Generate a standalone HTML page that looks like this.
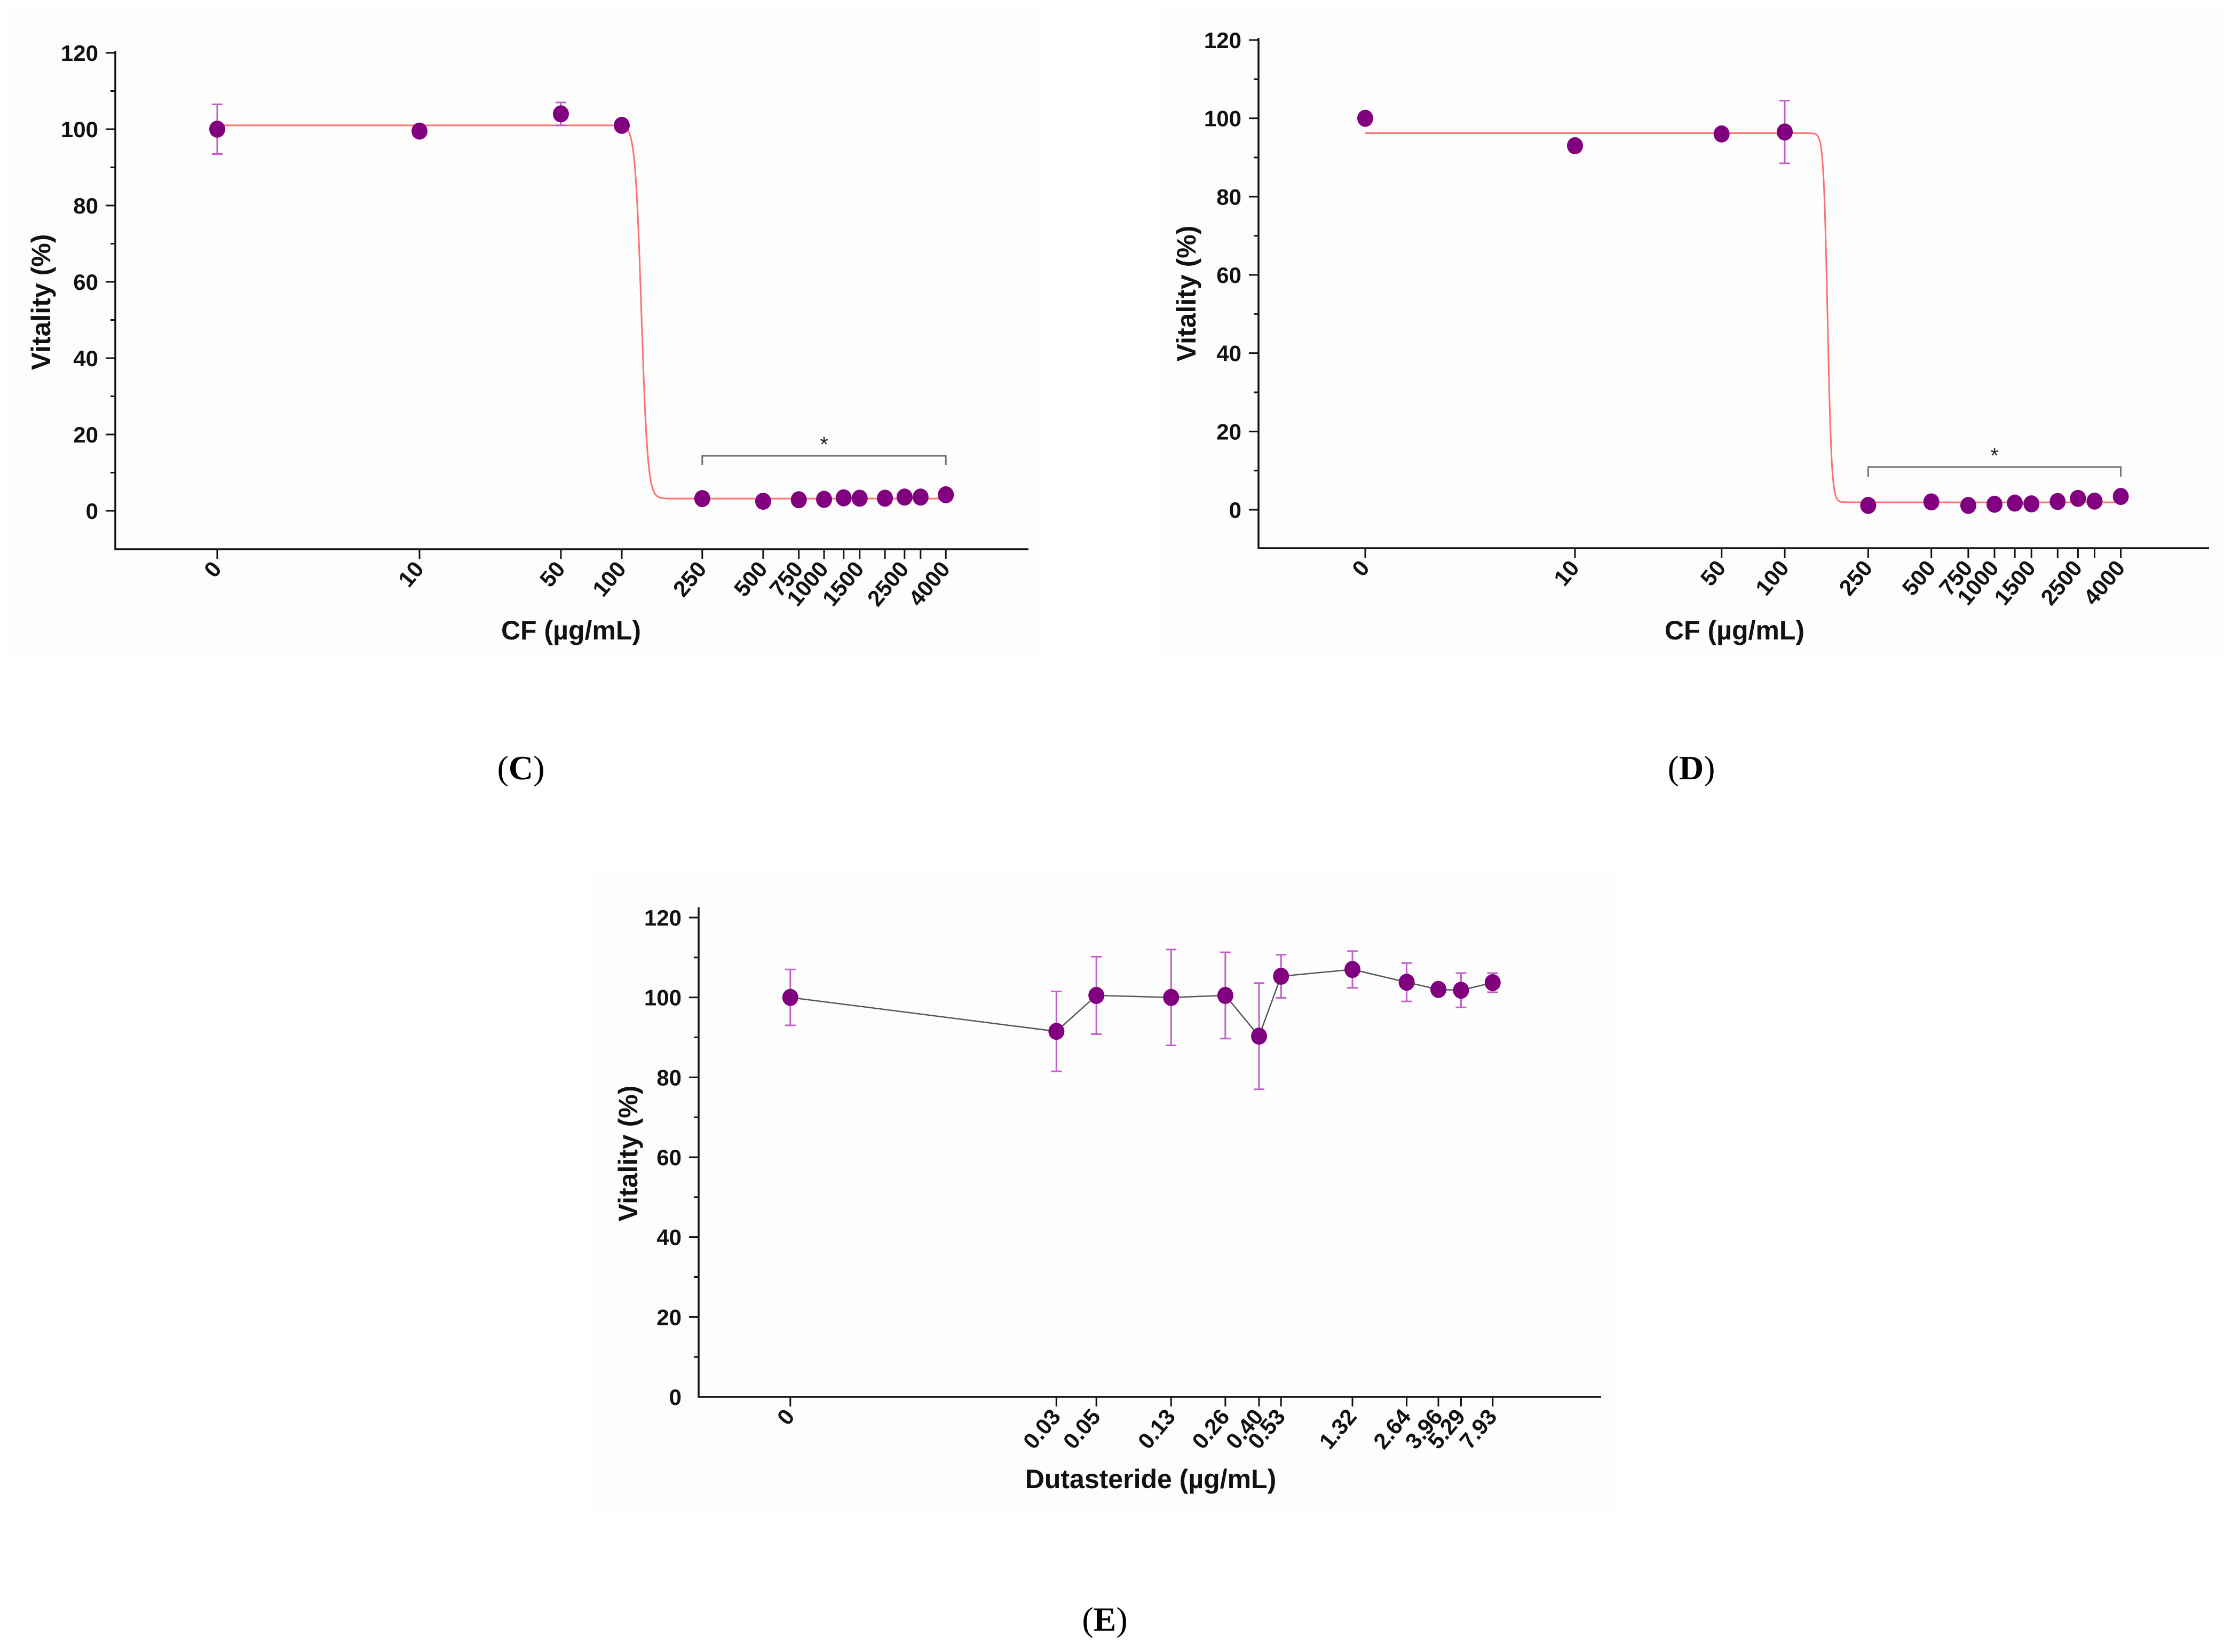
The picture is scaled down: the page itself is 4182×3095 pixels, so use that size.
<!DOCTYPE html>
<html><head><meta charset="utf-8"><style>
html,body{margin:0;padding:0;background:#fff}
svg{display:block}
text{font-family:"Liberation Sans",sans-serif}
</style></head><body>
<svg id="fig" width="4182" height="3095" viewBox="0 0 4182 3095" xmlns="http://www.w3.org/2000/svg">
<rect x="0" y="0" width="4182" height="3095" fill="#ffffff"/>
<rect x="15" y="10" width="1930" height="1215" fill="#fdfdfd"/>
<rect x="2172" y="10" width="1990" height="1215" fill="#fdfdfd"/>
<rect x="1110" y="1640" width="1915" height="1190" fill="#fdfdfd"/>
<text x="976" y="1460" font-size="64" text-anchor="middle" style="font-family:'Liberation Serif',serif">(<tspan font-weight="bold">C</tspan>)</text>
<text x="3169" y="1460" font-size="64" text-anchor="middle" style="font-family:'Liberation Serif',serif">(<tspan font-weight="bold">D</tspan>)</text>
<text x="2070" y="3055" font-size="64" text-anchor="middle" style="font-family:'Liberation Serif',serif">(<tspan font-weight="bold">E</tspan>)</text>
</svg>
<script>
// ---- Panel C data ----
const cfTickLabels = ["0","10","50","100","250","500","750","1000","1500","2500","4000"];
const cfDoses = [0,10,50,100,250,500,750,1000,1250,1500,2000,2500,3000,4000];
const cVitality = [100,99.5,104,101,3.2,2.5,2.9,3.0,3.4,3.3,3.3,3.6,3.6,4.2];
const cError = [6.5,0,3,0,0,0,0,0,0,0,0,0,0,0];
const cFitTop = 101, cFitBottom = 3.2, cFitEC50 = 125, cFitHill = 28;
// ---- Panel D data ----
const dVitality = [100,93,96,96.5,1.1,2.0,1.1,1.4,1.7,1.5,2.1,2.9,2.2,3.4];
const dError = [0,0,0,8,0,0,0,0,0,0,0,0,0,0];
const dFitTop = 96.2, dFitBottom = 1.9, dFitEC50 = 160, dFitHill = 45;
// ---- Panel E data ----
const dutDoses = [0,0.03,0.05,0.13,0.26,0.40,0.53,1.32,2.64,3.96,5.29,7.93];
const dutTickLabels = ["0","0.03","0.05","0.13","0.26","0.40","0.53","1.32","2.64","3.96","5.29","7.93"];
const eVitality = [100,91.5,100.5,100,100.5,90.3,105.3,107,103.8,102,101.8,103.7];
const eError = [7,10,9.7,12,10.8,13.3,5.4,4.6,4.8,0,4.3,2.4];
const yTicks = [0,20,40,60,80,100,120];

const NS="http://www.w3.org/2000/svg";
const svg=document.getElementById('fig');
function mk(tag,attrs,parent){const e=document.createElementNS(NS,tag);for(const k in attrs)e.setAttribute(k,attrs[k]);(parent||svg).appendChild(e);return e;}

function drawPanel(p){
  const g=mk('g',{});
  
  
  const y=v=>p.y0+(v-0)*(p.y120-p.y0)/120;
  const x=p.x;
  const ya=mk('line',{x1:p.ax,y1:p.axTop,x2:p.ax,y2:p.axBottom+1.5,stroke:'#111','stroke-width':3.5},g);
  
  
  const xa=mk('line',{x1:p.ax-1.5,y1:p.axBottom,x2:p.axRight,y2:p.axBottom,stroke:'#111','stroke-width':3.5},g);
  
  
  for(let v=p.yMin+10; v<=120; v+=10){
    const major = v%20===0;
    mk('line',{x1:p.ax-(major?18:9),y1:y(v),x2:p.ax,y2:y(v),stroke:'#111','stroke-width':3},g);
  }
  yTicks.forEach(v=>{
    const t=mk('text',{x:p.ax-32,y:y(v)+15,'font-size':42,'font-weight':'bold','text-anchor':'end',fill:'#111'},g);
    
    
    t.textContent=String(v);
  });
  p.doses.forEach(d=>{
    mk('line',{x1:x(d),y1:p.axBottom,x2:x(d),y2:p.axBottom+18,stroke:'#111','stroke-width':3},g);
  });
  p.tickLabels.forEach(s=>{
    const d=parseFloat(s), tx=x(d)+10, ty=p.axBottom+38;
    const t=mk('text',{x:tx,y:ty,'font-size':42,'font-weight':'bold','text-anchor':'end',fill:'#111',transform:`rotate(-50 ${tx} ${ty})`},g);
    
    
    t.textContent=s;
  });
  const yt=mk('text',{x:p.yTitleX,y:p.yTitleY,'font-size':50,'font-weight':'bold','text-anchor':'middle',fill:'#111',transform:`rotate(-90 ${p.yTitleX} ${p.yTitleY})`},g);
  
  
  yt.textContent='Vitality (%)';
  const xt=mk('text',{x:p.xTitleX,y:p.xTitleY,'font-size':50,'font-weight':'bold','text-anchor':'middle',fill:'#111'},g);
  
  
  xt.textContent=p.xTitle;
  if(p.fit){
    const f=p.fit; let dstr='';
    const lo=Math.log10(1), hi=Math.log10(p.doses[p.doses.length-1]);
    for(let i=0;i<=1200;i++){
      const lx=lo+(hi-lo)*i/1200, v=f.bottom+(f.top-f.bottom)/(1+Math.pow(10,(lx-Math.log10(f.ec50))*f.hill));
      dstr+=(i?'L':'M')+x(Math.pow(10,lx)).toFixed(1)+' '+y(v).toFixed(1);
    }
    const c=mk('path',{d:dstr,fill:'none',stroke:'#ff7070','stroke-width':3},g);
    
    
  } else {
    const pts=p.doses.map((d,i)=>x(d).toFixed(1)+','+y(p.vals[i]).toFixed(1)).join(' ');
    const l=mk('polyline',{points:pts,fill:'none',stroke:'#555','stroke-width':2.5},g);
    
    
  }
  p.doses.forEach((d,i)=>{
    const e=p.err[i];
    if(e>0){
      const eg=mk('g',{stroke:'#c060c8','stroke-width':3},g);
      
      
      mk('line',{x1:x(d),y1:y(p.vals[i]+e),x2:x(d),y2:y(p.vals[i]-e)},eg);
      mk('line',{x1:x(d)-10,y1:y(p.vals[i]+e),x2:x(d)+10,y2:y(p.vals[i]+e)},eg);
      mk('line',{x1:x(d)-10,y1:y(p.vals[i]-e),x2:x(d)+10,y2:y(p.vals[i]-e)},eg);
    }
  });
  p.doses.forEach((d,i)=>{
    const c=mk('ellipse',{cx:x(d),cy:y(p.vals[i]),rx:15,ry:16,fill:'#800080'},g);
    
    
  });
  if(p.bracket){
    const b=p.bracket, x1=x(b.from), x2=x(b.to);
    const br=mk('path',{d:`M${x1} ${b.yEnd}L${x1} ${b.y}L${x2} ${b.y}L${x2} ${b.yEnd}`,fill:'none',stroke:'#707070','stroke-width':3},g);
    
    
    const s=mk('text',{x:(x1+x2)/2,y:b.y-8,'font-size':40,'text-anchor':'middle',fill:'#222'},g);
    
    
    s.textContent='*';
  }
}

drawPanel({id:'panel-c',ax:216,axTop:96,axBottom:1029,axRight:1927,y0:957,y120:99,yMin:-10,
  x:d=>407+379*Math.log10(Math.max(d,1)),doses:cfDoses,tickLabels:cfTickLabels,vals:cVitality,err:cError,
  fit:{top:cFitTop,bottom:cFitBottom,ec50:cFitEC50,hill:cFitHill},
  bracket:{from:250,to:4000,y:854,yEnd:871},
  yTitleX:94,yTitleY:566,xTitle:'CF (\u00b5g/mL)',xTitleX:1070,xTitleY:1198});
drawPanel({id:'panel-d',ax:2358,axTop:71,axBottom:1027,axRight:4139,y0:955,y120:75,yMin:-10,
  x:d=>2558+393*Math.log10(Math.max(d,1)),doses:cfDoses,tickLabels:cfTickLabels,vals:dVitality,err:dError,
  fit:{top:dFitTop,bottom:dFitBottom,ec50:dFitEC50,hill:dFitHill},
  bracket:{from:250,to:4000,y:875,yEnd:893},
  yTitleX:2240,yTitleY:550,xTitle:'CF (\u00b5g/mL)',xTitleX:3250,xTitleY:1198});
drawPanel({id:'panel-e',ax:1309,axTop:1700,axBottom:2617,axRight:3000,y0:2617,y120:1719,yMin:0,
  x:d=>2534+337.5*(Math.log10(Math.max(d,0.001))-0.1206),doses:dutDoses,tickLabels:dutTickLabels,vals:eVitality,err:eError,
  fit:null,bracket:null,
  yTitleX:1194,yTitleY:2161,xTitle:'Dutasteride (\u00b5g/mL)',xTitleX:2156,xTitleY:2788});
</script>
</body></html>
